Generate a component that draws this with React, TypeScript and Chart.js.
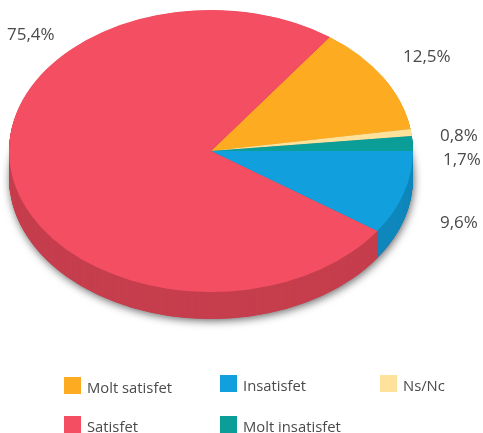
import React, { useEffect, useRef } from "react";
import { Chart, registerables } from "chart.js";

Chart.register(...registerables);

// Data, in clockwise drawing order
const categories = ["Molt satisfet", "Ns/Nc", "Molt insatisfet", "Insatisfet", "Satisfet"];
const values = [12.5, 0.8, 1.7, 9.6, 75.4];
const topColors = ["#FDAC21", "#FEE29C", "#0B9D98", "#119FDD", "#F34E61"];
const sideColors = ["#CF8D1B", "#D0B980", "#09817D", "#0F87BC", "#C63F4E"];

// Layout (not data)
const W = 483;
const H = 433;
const CX = 211;
const CY = 151;
const RX = 202;
const RY = 141;
const DEPTH = 27;
const TEXT = "#4A4A4A";
const valueLabelPos: [number, number, CanvasTextAlign][] = [
  [403, 62, "left"],
  [440, 141, "left"],
  [443, 165, "left"],
  [440, 228, "left"],
  [7, 40, "left"],
];
const legendPos: [number, number, number][] = [
  [64, 377, 393],
  [380, 375, 391],
  [220, 416, 432],
  [220, 375, 391],
  [64, 416, 432],
];

function ellipse(ctx: CanvasRenderingContext2D, chart: any, dy: number) {
  const first = chart.getDatasetMeta(0).data[0];
  const R = first.outerRadius;
  ctx.translate(CX, CY + dy);
  ctx.scale(RX / R, RY / R);
  ctx.translate(-first.x, -first.y);
}

const pie3d = {
  id: "pie3d",
  beforeDatasetsDraw(chart: any) {
    const ctx: CanvasRenderingContext2D = chart.ctx;
    const arcs = chart.getDatasetMeta(0).data;
    const first = arcs[0];

    // soft shadow under the base of the pie
    ctx.save();
    ctx.shadowColor = "rgba(0,0,0,0.6)";
    ctx.shadowBlur = 8;
    ctx.shadowOffsetX = 1;
    ctx.shadowOffsetY = 2;
    ctx.fillStyle = "#C63F4E";
    ellipse(ctx, chart, DEPTH);
    ctx.beginPath();
    ctx.arc(first.x, first.y, first.outerRadius, 0, Math.PI * 2);
    ctx.fill();
    ctx.restore();

    // the side wall: the library's arcs repeated downwards
    for (let d = DEPTH; d >= 0.5; d -= 0.5) {
      arcs.forEach((arc: any, i: number) => {
        ctx.save();
        ellipse(ctx, chart, d);
        ctx.fillStyle = sideColors[i];
        ctx.beginPath();
        ctx.moveTo(arc.x, arc.y);
        ctx.arc(arc.x, arc.y, arc.outerRadius, arc.startAngle, arc.endAngle);
        ctx.closePath();
        ctx.fill();
        ctx.restore();
      });
    }

    // squash the top face the library is about to draw
    ctx.save();
    ellipse(ctx, chart, 0);
  },
  afterDatasetsDraw(chart: any) {
    chart.ctx.restore();
  },
  afterDraw(chart: any) {
    const ctx: CanvasRenderingContext2D = chart.ctx;
    ctx.save();
    ctx.fillStyle = TEXT;
    ctx.textBaseline = "alphabetic";
    ctx.font = '17px "Open Sans"';
    values.forEach((v, i) => {
      const [x, y, align] = valueLabelPos[i];
      ctx.textAlign = align;
      ctx.fillText(v.toFixed(1).replace(".", ",") + "%", x, y);
    });
    ctx.textAlign = "left";
    ctx.font = '14.8px "Open Sans"';
    categories.forEach((c, i) => {
      const [x, top, base] = legendPos[i];
      ctx.fillStyle = topColors[i];
      ctx.fillRect(x, top, 17, 17);
      ctx.fillStyle = TEXT;
      ctx.fillText(c, x + 23, base);
    });
    ctx.restore();
  },
};

export default function App() {
  const ref = useRef<HTMLCanvasElement>(null);
  useEffect(() => {
    const chart = new Chart(ref.current!, {
      type: "pie",
      data: {
        labels: categories,
        datasets: [
          {
            data: values,
            backgroundColor: topColors,
            borderWidth: 0,
            clip: false,
          } as any,
        ],
      },
      options: {
        animation: false,
        responsive: false,
        rotation: 36,
        events: [],
        plugins: { legend: { display: false }, tooltip: { enabled: false } },
      },
      plugins: [pie3d],
    });
    return () => chart.destroy();
  }, []);
  return (
    <div style={{ position: "absolute", left: 0, top: 0, width: W, height: H, background: "#fff" }}>
      <canvas ref={ref} width={W} height={H} style={{ display: "block" }} />
    </div>
  );
}
